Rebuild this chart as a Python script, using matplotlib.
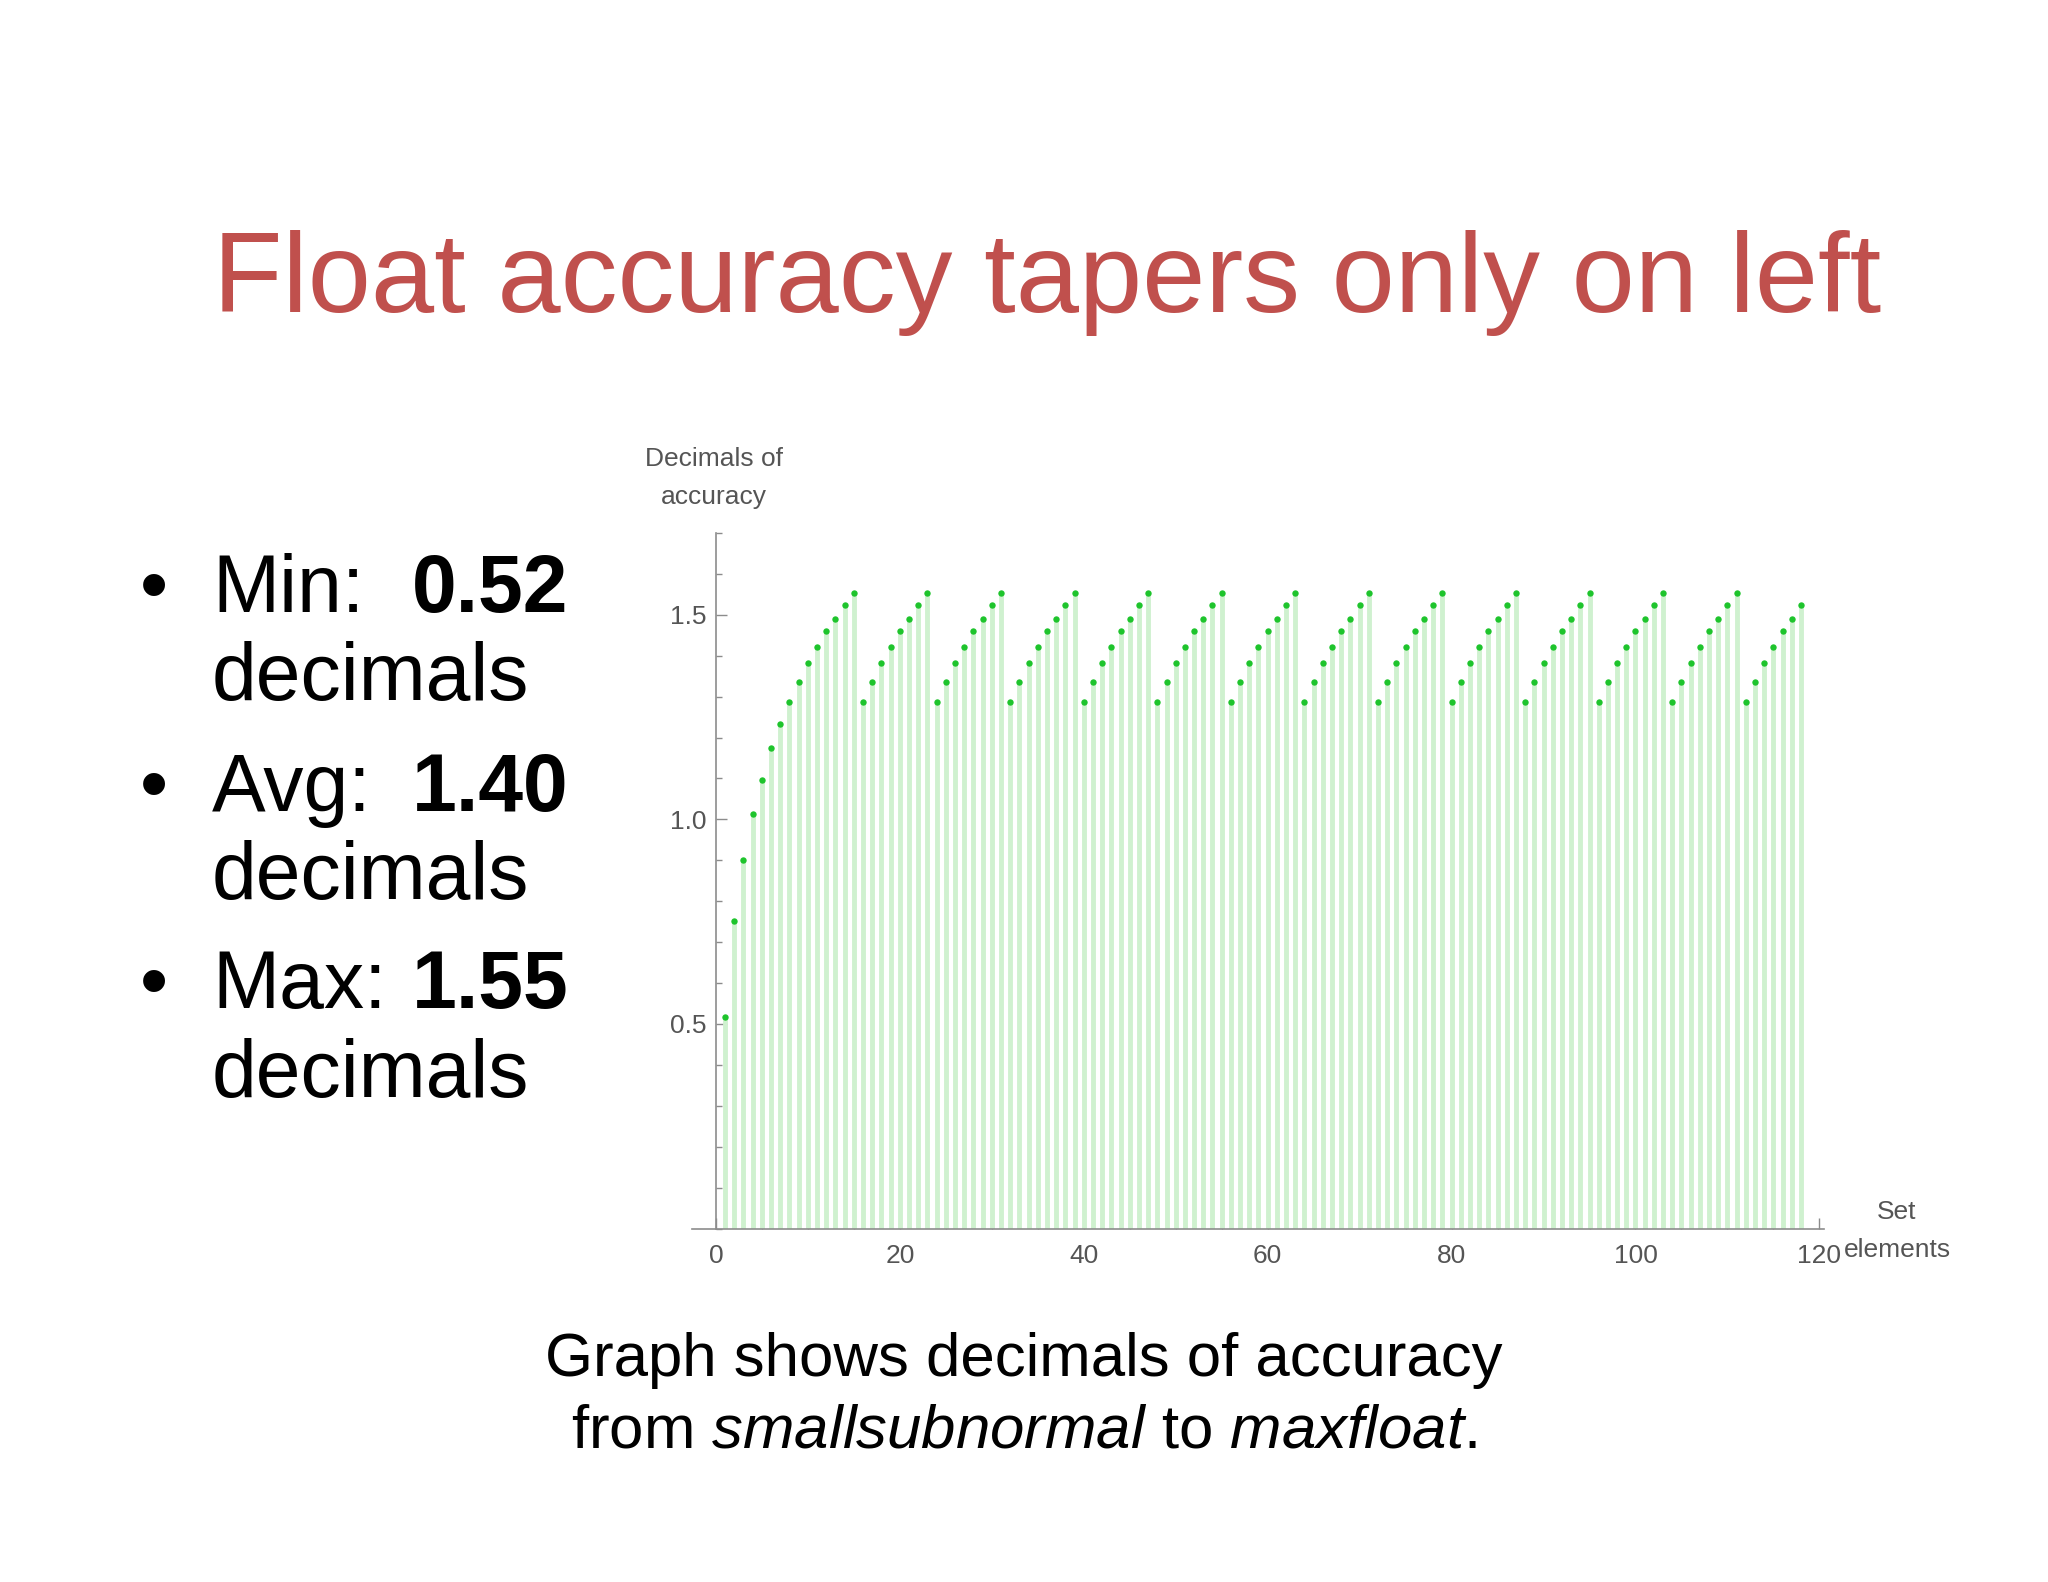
import matplotlib
matplotlib.use("Agg")
import matplotlib.pyplot as plt
from matplotlib.ticker import MultipleLocator, FixedLocator, FormatStrFormatter

# ---- data ----
set_elements = list(range(1, 119))
decimals_of_accuracy = [
    0.518, 0.752, 0.901, 1.012, 1.097, 1.174, 1.234, 1.288, 1.336, 1.382, 1.422, 1.460, 1.489, 1.523, 1.553,
    1.288, 1.336, 1.382, 1.422, 1.460, 1.489, 1.523, 1.553,
    1.288, 1.336, 1.382, 1.422, 1.460, 1.489, 1.523, 1.553,
    1.288, 1.336, 1.382, 1.422, 1.460, 1.489, 1.523, 1.553,
    1.288, 1.336, 1.382, 1.422, 1.460, 1.489, 1.523, 1.553,
    1.288, 1.336, 1.382, 1.422, 1.460, 1.489, 1.523, 1.553,
    1.288, 1.336, 1.382, 1.422, 1.460, 1.489, 1.523, 1.553,
    1.288, 1.336, 1.382, 1.422, 1.460, 1.489, 1.523, 1.553,
    1.288, 1.336, 1.382, 1.422, 1.460, 1.489, 1.523, 1.553,
    1.288, 1.336, 1.382, 1.422, 1.460, 1.489, 1.523, 1.553,
    1.288, 1.336, 1.382, 1.422, 1.460, 1.489, 1.523, 1.553,
    1.288, 1.336, 1.382, 1.422, 1.460, 1.489, 1.523, 1.553,
    1.288, 1.336, 1.382, 1.422, 1.460, 1.489, 1.523, 1.553,
    1.288, 1.336, 1.382, 1.422, 1.460, 1.489, 1.523,
]
x_ticks = [0, 20, 40, 60, 80, 100, 120]
y_ticks = [0.5, 1.0, 1.5]
title_text = "Float accuracy tapers only on left"
bullet_labels = ["Min:", "Avg:", "Max:"]
bullet_values = ["0.52", "1.40", "1.55"]
bullet_unit = "decimals"
caption_line1 = "Graph shows decimals of accuracy"
caption_line2 = r"from $\mathit{smallsubnormal}$ to $\mathit{maxfloat}$."
ylabel_text = "Decimals of\naccuracy"
xlabel_text = "Set\nelements"

# ---- figure ----
W, H = 2048, 1582
plt.rcParams['font.family'] = ['Liberation Sans', 'DejaVu Sans']
plt.rcParams['mathtext.fontset'] = 'custom'
plt.rcParams['mathtext.rm'] = 'Liberation Sans'
plt.rcParams['mathtext.it'] = 'Liberation Sans:italic'
plt.rcParams['mathtext.bf'] = 'Liberation Sans:bold'
fig = plt.figure(figsize=(W / 100, H / 100), dpi=100)
fig.patch.set_facecolor('white')


def fx(px):
    return px / W


def fy(py):
    return 1 - py / H


# axes geometry (pixels)
ax_left, ax_right, ax_top, ax_bottom = 692, 1824, 533, 1228.5
ax = fig.add_axes([fx(ax_left), fy(ax_bottom), (ax_right - ax_left) / W, (ax_bottom - ax_top) / H])
ax.set_xlim(-2.6, 120.5)
ax.set_ylim(0, 1.70)
ax.patch.set_alpha(0)

stem_color = '#cff1cf'
dot_color = '#1ec42c'
ax.vlines(set_elements, 0, decimals_of_accuracy, colors=stem_color, linewidth=3.5, zorder=2)
ax.plot(set_elements, decimals_of_accuracy, 'o', color=dot_color, markersize=4.6,
        markeredgewidth=0, zorder=3)

axis_grey = '#8c8c8c'
label_grey = '#555555'
for s in ['top', 'right']:
    ax.spines[s].set_visible(False)
ax.spines['left'].set_position(('data', 0))
for s in ['left', 'bottom']:
    ax.spines[s].set_color(axis_grey)
    ax.spines[s].set_linewidth(1.2)

ax.xaxis.set_major_locator(FixedLocator(x_ticks))
ax.xaxis.set_minor_locator(MultipleLocator(5))
ax.yaxis.set_major_locator(FixedLocator(y_ticks))
ax.yaxis.set_minor_locator(MultipleLocator(0.1))
ax.yaxis.set_major_formatter(FormatStrFormatter('%.1f'))
ax.tick_params(which='both', direction='in', color=axis_grey, width=1.0)
ax.tick_params(which='major', length=8, labelsize=19, labelcolor=label_grey)
ax.tick_params(which='minor', length=4.5)
ax.tick_params(axis='x', which='major', pad=11)
ax.tick_params(axis='y', which='major', pad=7)

# axis labels
fig.text(fx(714), fy(478), ylabel_text, ha='center', va='center', fontsize=19,
         color=label_grey, linespacing=1.75)
fig.text(fx(1897), fy(1231), xlabel_text, ha='center', va='center', fontsize=19,
         color=label_grey, linespacing=1.75)

# title
fig.text(fx(1047), fy(312), title_text, ha='center', va='baseline', fontsize=81.8,
         color='#c0504d')

# bullets
baselines = [(612, 700), (811, 899), (1008, 1097)]
for (b1, b2), lab, val in zip(baselines, bullet_labels, bullet_values):
    fig.text(fx(154), fy(b1), "\u2022", ha='center', va='baseline', fontsize=58, color='black')
    fig.text(fx(212), fy(b1), lab, ha='left', va='baseline', fontsize=58, color='black')
    fig.text(fx(412), fy(b1), val, ha='left', va='baseline', fontsize=58,
             fontweight='bold', color='black')
    fig.text(fx(212), fy(b2), bullet_unit, ha='left', va='baseline', fontsize=58, color='black')

# caption
fig.text(fx(1024), fy(1376), caption_line1, ha='center', va='baseline', fontsize=44.5,
         color='black')
fig.text(fx(1024), fy(1448), caption_line2, ha='center', va='baseline', fontsize=44.5,
         color='black')

fig.savefig('out.png', dpi=100, facecolor='white')
